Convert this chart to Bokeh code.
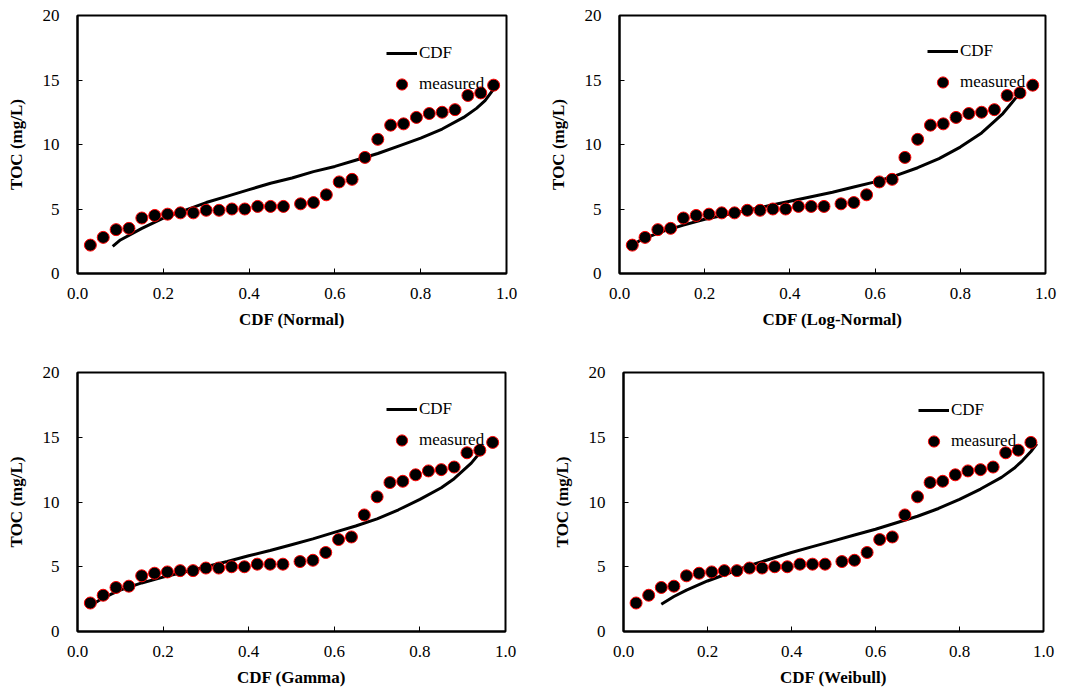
from bokeh.plotting import figure
from bokeh.layouts import column, row
from bokeh.models import Legend, LegendItem, FixedTicker, Range1d, PrintfTickFormatter
from bokeh.embed import file_html
from bokeh.resources import INLINE

# ---------------- data ----------------
cdf_measured = [0.03, 0.06, 0.09, 0.12, 0.15, 0.18, 0.21, 0.24, 0.27, 0.30, 0.33,
                0.36, 0.39, 0.42, 0.45, 0.48, 0.52, 0.55, 0.58, 0.61, 0.64, 0.67,
                0.70, 0.73, 0.76, 0.79, 0.82, 0.85, 0.88, 0.91, 0.94, 0.97]
toc_measured = [2.2, 2.8, 3.4, 3.5, 4.3, 4.5, 4.6, 4.7, 4.7, 4.9, 4.9,
                5.0, 5.0, 5.2, 5.2, 5.2, 5.4, 5.5, 6.1, 7.1, 7.3, 9.0,
                10.4, 11.5, 11.6, 12.1, 12.4, 12.5, 12.7, 13.8, 14.0, 14.6]

normal_x = [0.082, 0.10, 0.15, 0.20, 0.25, 0.30, 0.35, 0.40, 0.45, 0.50, 0.55,
            0.60, 0.65, 0.70, 0.75, 0.80, 0.85, 0.90, 0.93, 0.95, 0.97]
normal_y = [2.1, 2.6, 3.5, 4.3, 4.9, 5.5, 6.0, 6.5, 7.0, 7.4, 7.9,
            8.3, 8.8, 9.3, 9.9, 10.5, 11.2, 12.1, 12.8, 13.4, 14.3]

lognormal_x = [0.03, 0.05, 0.08, 0.10, 0.15, 0.20, 0.25, 0.30, 0.35, 0.40, 0.45,
               0.50, 0.55, 0.60, 0.65, 0.70, 0.75, 0.80, 0.85, 0.88, 0.90, 0.92, 0.94]
lognormal_y = [2.2, 2.6, 3.0, 3.25, 3.75, 4.2, 4.55, 4.9, 5.25, 5.6, 5.95,
               6.3, 6.7, 7.1, 7.6, 8.2, 8.9, 9.8, 10.9, 11.8, 12.4, 13.2, 14.0]

gamma_x = [0.03, 0.05, 0.08, 0.10, 0.15, 0.20, 0.25, 0.30, 0.35, 0.40, 0.45,
           0.50, 0.55, 0.60, 0.65, 0.70, 0.75, 0.80, 0.85, 0.88, 0.90, 0.92, 0.94]
gamma_y = [2.0, 2.4, 2.9, 3.2, 3.75, 4.2, 4.6, 5.0, 5.4, 5.85, 6.25,
           6.7, 7.15, 7.65, 8.15, 8.7, 9.4, 10.2, 11.1, 11.8, 12.4, 13.0, 13.8]

weibull_x = [0.09, 0.12, 0.15, 0.20, 0.25, 0.30, 0.35, 0.40, 0.45, 0.50, 0.55,
             0.60, 0.65, 0.70, 0.75, 0.80, 0.85, 0.90, 0.93, 0.95, 0.97, 0.984]
weibull_y = [2.1, 2.7, 3.2, 3.9, 4.5, 5.1, 5.6, 6.1, 6.55, 7.0, 7.45,
             7.9, 8.4, 8.9, 9.5, 10.2, 11.0, 11.9, 12.6, 13.2, 13.9, 14.5]

x_ticks = [0.0, 0.2, 0.4, 0.6, 0.8, 1.0]
y_ticks = [0, 5, 10, 15, 20]
x_labels = ["CDF (Normal)", "CDF (Log-Normal)", "CDF (Gamma)", "CDF (Weibull)"]
y_label = "TOC (mg/L)"
legend_labels = ["CDF", "measured"]

FONT = "Liberation Serif"
FS = "17px"


def make_panel(xlabel, fx, fy, width, height, bl, br, bt, bb, leg_loc):
    p = figure(width=width, height=height, output_backend="svg", toolbar_location=None,
               x_range=Range1d(0, 1), y_range=Range1d(0, 20),
               min_border_left=bl, min_border_right=br, min_border_top=bt, min_border_bottom=bb,
               background_fill_color="white", border_fill_color="white")
    p.xgrid.visible = False
    p.ygrid.visible = False
    p.outline_line_color = "black"
    p.outline_line_width = 2
    p.outline_line_alpha = 1

    ln = p.line(fx, fy, line_color="black", line_width=3)
    pts = p.scatter(cdf_measured, toc_measured, size=12, fill_color="black",
                    line_color="red", line_width=1)

    p.xaxis.ticker = FixedTicker(ticks=x_ticks)
    p.xaxis.formatter = PrintfTickFormatter(format="%.1f")
    p.yaxis.ticker = FixedTicker(ticks=y_ticks)
    for ax in (p.xaxis, p.yaxis):
        ax.axis_line_color = "black"
        ax.axis_line_width = 2
        ax.major_tick_in = 5
        ax.major_tick_out = 0
        ax.major_tick_line_color = "black"
        ax.major_tick_line_width = 1
        ax.minor_tick_line_color = None
        ax.major_label_text_font = FONT
        ax.major_label_text_font_size = FS
        ax.major_label_text_color = "black"
        ax.axis_label_text_font = FONT
        ax.axis_label_text_font_size = FS
        ax.axis_label_text_font_style = "bold"
        ax.axis_label_text_color = "black"
    p.xaxis.major_label_standoff = 14
    p.yaxis.major_label_standoff = 18
    p.xaxis.axis_label_standoff = 8
    p.yaxis.axis_label_standoff = 14
    p.xaxis.axis_label = xlabel
    p.yaxis.axis_label = y_label

    leg = Legend(items=[LegendItem(label=legend_labels[0], renderers=[ln]),
                        LegendItem(label=legend_labels[1], renderers=[pts])],
                 location=leg_loc, padding=0, margin=0,
                 glyph_width=31, glyph_height=28, label_height=20, label_standoff=2,
                 spacing=3, background_fill_alpha=0, border_line_alpha=0,
                 label_text_font=FONT, label_text_font_size=FS, label_text_color="black")
    p.add_layout(leg)
    return p


p1 = make_panel(x_labels[0], normal_x, normal_y, 545, 350, 77, 39, 15, 77, (309, 175))
p2 = make_panel(x_labels[1], lognormal_x, lognormal_y, 546, 350, 74, 46, 15, 77, (308, 177))
p3 = make_panel(x_labels[2], gamma_x, gamma_y, 545, 346, 77, 40, 22, 65, (309, 177))
p4 = make_panel(x_labels[3], weibull_x, weibull_y, 546, 346, 78, 48, 22, 65, (295, 176))

layout = column(row(p1, p2), row(p3, p4))

open("out.html", "w").write(file_html(layout, INLINE))
